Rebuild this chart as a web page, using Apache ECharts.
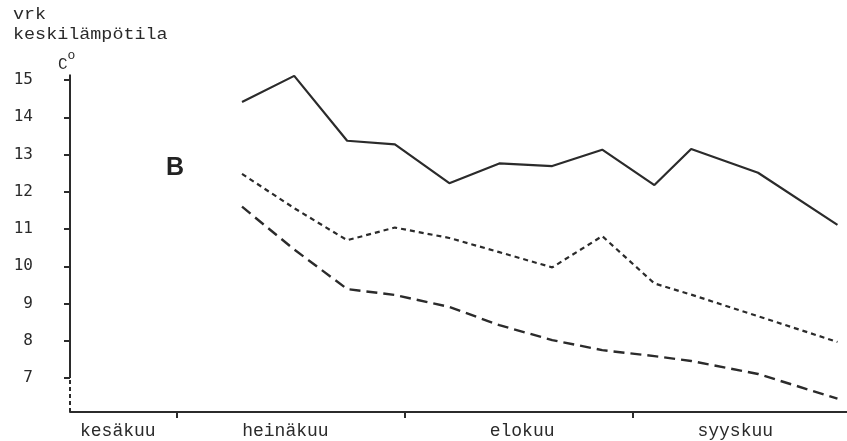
<!DOCTYPE html>
<html>
<head>
<meta charset="utf-8">
<script src="https://cdn.jsdelivr.net/npm/echarts@6/dist/echarts.min.js"></script>
<style>html,body{margin:0;padding:0;background:#fff;}#c{width:847px;height:441px;}</style>
</head>
<body>
<div id="c"></div>
<script>
// x values: day counted from 1 June (approx. weekly observations)
var days = [38.9, 46.0, 53.2, 59.7, 67.1, 73.9, 81.1, 87.9, 95.0, 100.0, 109.1, 119.9];
var solidVals = [14.41, 15.11, 13.37, 13.27, 12.23, 12.76, 12.69, 13.13, 12.18, 13.15, 12.51, 11.11];
var shortDashVals = [12.48, 11.56, 10.70, 11.04, 10.76, 10.38, 9.97, 10.81, 9.54, 9.24, 8.66, 7.97];
var longDashVals = [11.60, 10.45, 9.39, 9.23, 8.91, 8.42, 8.02, 7.75, 7.59, 7.46, 7.11, 6.45];

var yTicks = [7, 8, 9, 10, 11, 12, 13, 14, 15];
var monthBoundaries = [30, 61, 92];
var monthNames = ['kesäkuu', 'heinäkuu', 'elokuu', 'syyskuu'];
var monthLabelPos = [22.0, 44.8, 77.0, 106.0];

var xMin = 15.5, xMax = 121.2, yMin = 6.09, yMax = 15.15;

function pairs(vals) { return days.map(function (d, i) { return [d, vals[i]]; }); }

var ink = '#2b2b2b';
var chart = echarts.init(document.getElementById('c'), null, { renderer: 'canvas' });
chart.setOption({
  backgroundColor: '#ffffff',
  animation: false,
  grid: { left: 70, right: 0, top: 74.4, bottom: 29, containLabel: false },
  xAxis: {
    type: 'value', min: xMin, max: xMax,
    splitLine: { show: false },
    axisLine: { show: true, lineStyle: { color: ink, width: 2 } },
    axisTick: { show: true, customValues: monthBoundaries, length: 6, lineStyle: { color: ink, width: 2 } },
    axisLabel: {
      show: true, customValues: monthLabelPos, margin: 10,
      fontFamily: 'Liberation Mono', fontSize: 18, color: '#2a2a2a',
      formatter: function (v) {
        for (var i = 0; i < monthLabelPos.length; i++) if (Math.abs(monthLabelPos[i] - v) < 0.01) return monthNames[i];
        return '';
      }
    }
  },
  yAxis: {
    type: 'value', min: yMin, max: yMax,
    splitLine: { show: false },
    axisLine: { show: false },
    axisTick: { show: true, customValues: yTicks, length: 6, lineStyle: { color: ink, width: 2 } },
    axisLabel: { show: true, customValues: yTicks, margin: 37, fontFamily: 'DejaVu Sans Mono', fontSize: 16, color: '#2a2a2a' }
  },
  series: [
    { type: 'line', data: [[xMin, 7], [xMin, yMax]], symbol: 'none', clip: false, silent: true,
      lineStyle: { color: ink, width: 2 } },
    { type: 'line', data: [[xMin, yMin], [xMin, 7]], symbol: 'none', clip: false, silent: true,
      lineStyle: { color: ink, width: 2, type: [4, 3] } },
    { name: 'solid', type: 'line', data: pairs(solidVals), symbol: 'none',
      lineStyle: { color: ink, width: 2.2 } },
    { name: 'short', type: 'line', data: pairs(shortDashVals), symbol: 'none',
      lineStyle: { color: ink, width: 2.2, type: [5, 4] } },
    { name: 'long', type: 'line', data: pairs(longDashVals), symbol: 'none',
      lineStyle: { color: ink, width: 2.4, type: [11, 6] } }
  ],
  graphic: [
    { type: 'text', x: 13, y: 7, scaleX: 1.15, style: { text: 'vrk', font: '16px "Liberation Mono"', fill: '#2a2a2a' } },
    { type: 'text', x: 13, y: 27, scaleX: 1.15, style: { text: 'keskilämpötila', font: '16px "Liberation Mono"', fill: '#2a2a2a' } },
    { type: 'text', x: 58, y: 49, style: {
        text: '{c|C}{o|o}', fill: '#2a2a2a',
        rich: { c: { fontFamily: 'Liberation Mono', fontSize: 16, padding: [8, 0, 0, 0], fill: '#2a2a2a' },
                o: { fontFamily: 'Liberation Mono', fontSize: 13, verticalAlign: 'top', fill: '#2a2a2a' } } } },
    { type: 'text', x: 166, y: 156, style: { text: 'B', font: 'bold 25px "Liberation Sans"', fill: '#222' } }
  ]
});
</script>
</body>
</html>
